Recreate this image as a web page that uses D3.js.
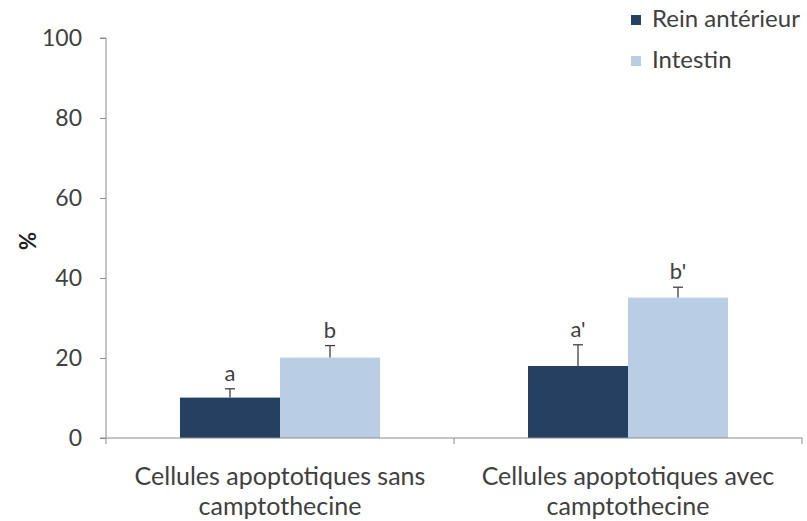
<!DOCTYPE html>
<html>
<head>
<meta charset="utf-8">
<script src="https://cdn.jsdelivr.net/npm/d3@7"></script>
<style>
  html, body { margin: 0; padding: 0; background: #fff; }
  svg { display: block; font-family: "Lato", "Open Sans", sans-serif; }
</style>
</head>
<body>
<svg id="chart" width="807" height="521"></svg>
<script>
// Categories (two-line labels) and series
const categories = ["Cellules apoptotiques sans camptothecine", "Cellules apoptotiques avec camptothecine"];
const categoryLines = [["Cellules apoptotiques sans", "camptothecine"], ["Cellules apoptotiques avec", "camptothecine"]];
const seriesNames = ["Rein antérieur", "Intestin"];
const reinValues = [10.1, 18.0];
const reinErrors = [2.2, 5.3];
const intestinValues = [20.1, 35.1];
const intestinErrors = [3.0, 2.6];
const reinLetters = ["a", "a'"];
const intestinLetters = ["b", "b'"];
const yTicks = [0, 20, 40, 60, 80, 100];

const colors = ["#254061", "#b9cde5"];
const axisColor = "#8c8c8c";
const textColor = "#404040";

const svg = d3.select("#chart");
const margin = { left: 106, right: 5, top: 38, bottom: 83 };
const width = 807 - margin.left - margin.right;
const height = 521 - margin.top - margin.bottom;

const g = svg.append("g").attr("transform", `translate(${margin.left},${margin.top})`);

const x = d3.scaleBand().domain(categories).range([0, width]).paddingInner(0).paddingOuter(0);
const sub = d3.scaleBand().domain(seriesNames).range([74, x.bandwidth() - 74]);
const y = d3.scaleLinear().domain([0, 100]).range([height, 0]);

const series = [
  { name: seriesNames[0], values: reinValues, errors: reinErrors, letters: reinLetters, color: colors[0] },
  { name: seriesNames[1], values: intestinValues, errors: intestinErrors, letters: intestinLetters, color: colors[1] }
];

// bars
series.forEach(s => {
  categories.forEach((c, i) => {
    const bx = x(c) + sub(s.name);
    g.append("rect")
      .attr("x", bx)
      .attr("y", y(s.values[i]))
      .attr("width", sub.bandwidth())
      .attr("height", y(0) - y(s.values[i]))
      .attr("fill", s.color);
  });
});

// error bars (upper only) and significance letters
series.forEach(s => {
  categories.forEach((c, i) => {
    const cx = x(c) + sub(s.name) + sub.bandwidth() / 2;
    const top = y(s.values[i] + s.errors[i]);
    g.append("line")
      .attr("x1", cx).attr("x2", cx)
      .attr("y1", y(s.values[i])).attr("y2", top)
      .attr("stroke", "#404040").attr("stroke-width", 1.3);
    g.append("line")
      .attr("x1", cx - 5).attr("x2", cx + 5)
      .attr("y1", top).attr("y2", top)
      .attr("stroke", "#404040").attr("stroke-width", 1.3);
    g.append("text")
      .attr("x", cx)
      .attr("y", top - 8)
      .attr("text-anchor", "middle")
      .attr("font-size", 22)
      .attr("fill", textColor)
      .text(s.letters[i]);
  });
});

// y axis
const yAxis = d3.axisLeft(y).tickValues(yTicks).tickSize(6).tickPadding(18);
const yg = g.append("g").call(yAxis);
yg.select(".domain").attr("stroke", axisColor).attr("d", `M-6,0H0V${height}`);
yg.selectAll(".tick line").attr("stroke", axisColor);
yg.selectAll(".tick text").attr("font-size", 23).attr("fill", textColor).attr("font-family", "Lato, sans-serif");

// x axis
const xg = g.append("g").attr("transform", `translate(0,${height})`);
xg.append("line").attr("x1", -6).attr("x2", width).attr("y1", 0).attr("y2", 0).attr("stroke", axisColor);
const boundaries = [0, ...categories.map(c => x(c) + x.bandwidth())];
boundaries.forEach(b => {
  xg.append("line").attr("x1", b).attr("x2", b).attr("y1", 0).attr("y2", 6).attr("stroke", axisColor);
});
categories.forEach((c, i) => {
  const t = xg.append("text")
    .attr("x", x(c) + x.bandwidth() / 2)
    .attr("y", 47)
    .attr("text-anchor", "middle")
    .attr("font-size", 25)
    .attr("fill", textColor);
  categoryLines[i].forEach((line, k) => {
    t.append("tspan").attr("x", x(c) + x.bandwidth() / 2).attr("dy", k === 0 ? 0 : 30).text(line);
  });
});

// y axis title
svg.append("text")
  .attr("transform", "translate(36,241) rotate(-90)")
  .attr("text-anchor", "middle")
  .attr("font-size", 22)
  .attr("font-weight", "bold")
  .attr("fill", "#222")
  .text("%");

// legend
const legend = svg.append("g").attr("transform", "translate(631,10)");
series.forEach((s, i) => {
  const row = legend.append("g").attr("transform", `translate(0,${i * 41})`);
  row.append("rect").attr("x", 0).attr("y", 5).attr("width", 10).attr("height", 10).attr("fill", s.color);
  row.append("text").attr("x", 21).attr("y", 17).attr("font-size", 24).attr("fill", textColor).text(s.name);
});
</script>
</body>
</html>
